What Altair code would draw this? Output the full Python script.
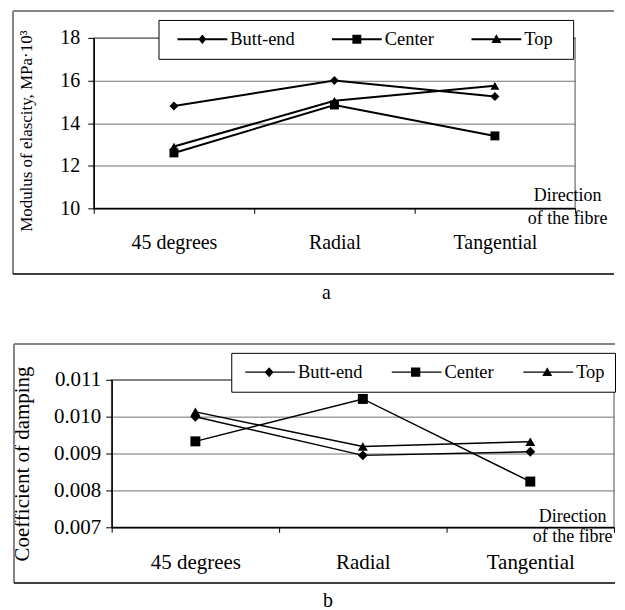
import altair as alt
import pandas as pd

FONT = "Liberation Serif"

directions = ["45 degrees", "Radial", "Tangential"]
series = ["Butt-end", "Center", "Top"]

modulus_butt_end = [14.8, 16.0, 15.25]
modulus_center = [12.6, 14.85, 13.4]
modulus_top = [12.9, 15.05, 15.75]

damping_butt_end = [0.0100, 0.00895, 0.00905]
damping_center = [0.00933, 0.01048, 0.00824]
damping_top = [0.01013, 0.00919, 0.00932]

modulus_ticks = [10, 12, 14, 16, 18]
damping_ticks = [0.007, 0.008, 0.009, 0.010, 0.011]

marker_shapes = ["diamond", "square", "triangle-up"]

# legend keys (filled outlines): a thin bar as the line, with the marker in its middle.
# Units of 5 px; the lone "M" points only widen the key's box.
key_paths_a = [
    "M-1.85,0M-0.05,-0.2H9.95V0.2H-0.05ZM4.95,-0.95L5.75,0L4.95,0.95L4.15,0Z",
    "M-1.85,0M-0.05,-0.2H9.95V0.2H-0.05ZM4.05,-0.9H5.85V0.9H4.05Z",
    "M-1.85,0M18.35,0M-0.05,-0.2H9.95V0.2H-0.05ZM4.95,-1.0L5.95,0.75H3.95Z",
]
key_paths_b = [
    "M-1.85,0M-1.05,-0.12H8.95V0.12H-1.05ZM3.75,-1.0L4.65,0L3.75,1.0L2.85,0Z",
    "M-1.85,0M-1.05,-0.12H8.95V0.12H-1.05ZM2.82,-0.93H4.68V0.93H2.82Z",
    "M-1.85,0M-1.05,-0.12H8.95V0.12H-1.05ZM3.75,-1.0L4.75,0.75H2.75Z",
]


def long_table(values_by_series):
    rows = []
    for s, vals in zip(series, values_by_series):
        for d, v in zip(directions, vals):
            rows.append({"direction": d, "series": s, "value": v})
    return pd.DataFrame(rows)


def panel(values_by_series, ticks, y_title, y_fmt, c):
    df = long_table(values_by_series)
    x_enc = alt.X(
        "direction:N",
        sort=directions,
        scale=alt.Scale(type="band", paddingInner=0, paddingOuter=0),
        axis=alt.Axis(
            title=["Direction", "of the fibre"],
            titleX=c["tx"], titleY=c["ty"], titleAlign="center", titleBaseline="top",
            titleAngle=0, titleFontSize=18, titleFontWeight="normal",
            titleLineHeight=c["tlh"],
            labelFontSize=c["lfs"], labelPadding=c["lpx"], labelAngle=0,
            tickSize=5, tickBand="extent", grid=False,
        ),
    )
    y_enc = alt.Y(
        "value:Q",
        scale=alt.Scale(domain=c["dom"], nice=False, zero=False),
        axis=alt.Axis(
            values=ticks, format=y_fmt, title=y_title,
            titleFontSize=c["yts"], titleFontWeight="normal",
            titlePadding=c["ytp"], titleY=c["yty"],
            labelFontSize=c["lfs"], labelPadding=c["lpy"],
            tickSize=6, grid=True, gridColor="#707070", gridWidth=1,
        ),
    )
    lines = alt.Chart(df).mark_line(color="black", strokeWidth=c["lw"]).encode(
        x=x_enc, y=y_enc, detail="series:N"
    )
    points = alt.Chart(df).mark_point(
        filled=True, color="black", opacity=1, size=c["ms"]
    ).encode(
        x=x_enc, y=y_enc,
        shape=alt.Shape("series:N", scale=alt.Scale(domain=series, range=marker_shapes), legend=None),
    )
    key = alt.Chart(df).transform_filter("false").mark_point(
        filled=True, color="black", opacity=1, size=100, strokeWidth=0
    ).encode(
        x=x_enc, y=y_enc,
        shape=alt.Shape(
            "series:N",
            scale=alt.Scale(domain=series, range=c["paths"]),
            legend=alt.Legend(
                title=None, orient="none", legendX=c["lx"], legendY=c["ly"],
                direction="horizontal", columns=3, columnPadding=c["cp"],
                padding=10, strokeColor="black", fillColor="white",
                labelFontSize=18.5, labelFont=FONT, labelColor="black",
                labelOffset=c["lo"], symbolSize=100,
                symbolStrokeWidth=0, symbolFillColor="black",
            ),
        ),
    )
    fr = alt.Chart(pd.DataFrame({"frame": [0]}))
    L, R, T, B = c["frame"]
    top = fr.mark_rule(color="#858585", strokeWidth=2).encode(
        x=alt.value(L), x2=alt.value(R), y=alt.value(T))
    left = fr.mark_rule(color="#858585", strokeWidth=2).encode(
        x=alt.value(L), y=alt.value(T), y2=alt.value(B))
    bottom = fr.mark_rule(color="black", strokeWidth=1.5).encode(
        x=alt.value(L), x2=alt.value(R), y=alt.value(B))
    body = alt.layer(top, left, bottom, lines, points, key).resolve_scale(
        shape="independent"
    ).properties(
        width=c["w"], height=c["h"],
        title=alt.TitleParams(
            c["cap"], orient="bottom", anchor="middle", frame="group",
            fontSize=20, font=FONT, fontWeight="normal", color="black",
            dx=c["cdx"], offset=c["coff"],
        ),
    )
    # an empty 1-px view to the left, so that each frame (not each plot) starts at the left edge
    spacer = alt.Chart(pd.DataFrame({"blank": [""]})).mark_text(fontSize=1).encode(
        text="blank:N", x=alt.value(0), y=alt.value(0)
    ).properties(width=1, height=1, view=alt.ViewBackground(stroke="transparent"))
    return alt.hconcat(spacer, body, spacing=0).resolve_scale(shape="independent")


cfg_a = dict(
    w=483, h=171, dom=[10, 18], tx=475, ty=-22, tlh=23, lfs=20, lpx=19, lpy=8,
    yts=17, ytp=24, yty=93, lw=2, ms=80, paths=key_paths_a,
    lx=65, ly=-18, cp=28, lo=43.5, frame=(-81, 522, -27, 237), cap="a", cdx=-8, coff=8,
)
cfg_b = dict(
    w=504, h=148, dom=[0.007, 0.011], tx=462, ty=-20, tlh=20, lfs=21, lpx=19, lpy=5,
    yts=21, ytp=21, yty=84, lw=1.5, ms=100, paths=key_paths_b,
    lx=120, ly=-27, cp=25, lo=38.5, frame=(-98, 505, -36, 204), cap="b", cdx=-35, coff=7,
)

panel_a = panel([modulus_butt_end, modulus_center, modulus_top], modulus_ticks,
                "Modulus of elascity, MPa·10³", "d", cfg_a)
panel_b = panel([damping_butt_end, damping_center, damping_top], damping_ticks,
                "Coefficient of damping", ".3f", cfg_b)

chart = alt.vconcat(panel_a, panel_b, spacing=38).properties(
    padding={"left": 0, "top": 0, "right": 0, "bottom": 0}
).resolve_scale(shape="independent").configure(
    font=FONT, padding={"left": 0, "top": 0, "right": 0, "bottom": 0}
).configure_view(
    stroke="#8a8a8a", strokeWidth=1.5
).configure_axis(
    labelFont=FONT, titleFont=FONT, labelColor="black", titleColor="black",
    domainColor="black", tickColor="black", domainWidth=1.5, tickWidth=1,
)

chart.save("out.html", embed_options={"renderer": "svg", "actions": False})
